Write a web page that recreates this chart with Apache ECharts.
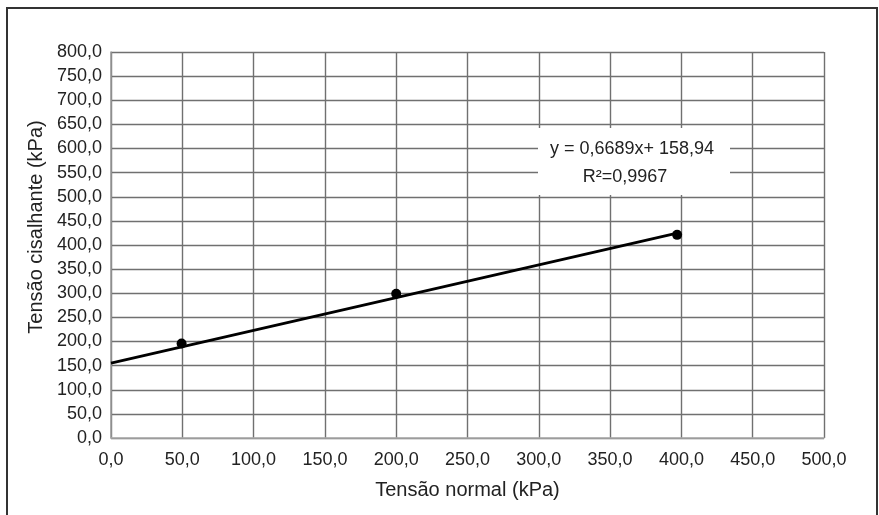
<!DOCTYPE html>
<html>
<head>
<meta charset="utf-8">
<script src="https://cdn.jsdelivr.net/npm/echarts@6/dist/echarts.min.js"></script>
<style>
html,body{margin:0;padding:0;background:#fff;}
#chart{width:879px;height:515px;}
</style>
</head>
<body>
<div id="chart"></div>
<script>
// Data
const xTitle = 'Tensão normal (kPa)';
const yTitle = 'Tensão cisalhante (kPa)';
const pointsX = [49.5, 200, 397];
const pointsY = [196, 299, 421];
const trendX = [0, 397];
const trendY = [155, 424.5];
const equationText = 'y = 0,6689x+ 158,94';
const r2Text = 'R²=0,9967';

const fmt = v => v.toFixed(1).replace('.', ',');
const FONT = '"Liberation Sans", Arial, sans-serif';

const chart = echarts.init(document.getElementById('chart'), null, {renderer: 'canvas'});
chart.setOption({
  animation: false,
  backgroundColor: '#fff',
  grid: {left: 111, right: 55, top: 52, bottom: 77, containLabel: false},
  xAxis: {
    type: 'value', min: 0, max: 500, interval: 50,
    name: xTitle, nameLocation: 'middle', nameGap: 42,
    nameTextStyle: {fontFamily: FONT, fontSize: 20, color: '#222'},
    axisLine: {show: true, lineStyle: {color: '#aaa', width: 1.5}},
    axisTick: {show: false},
    axisLabel: {formatter: fmt, margin: 13, fontFamily: FONT, fontSize: 18, color: '#222'},
    splitLine: {show: true, lineStyle: {color: '#707070', width: 1.4}}
  },
  yAxis: {
    type: 'value', min: 0, max: 800, interval: 50,
    name: yTitle, nameLocation: 'middle', nameGap: 62, nameRotate: 90,
    nameTextStyle: {fontFamily: FONT, fontSize: 20, color: '#222', padding: [0, 0, 0, 36]},
    axisLine: {show: true, lineStyle: {color: '#999', width: 1.5}},
    axisTick: {show: false},
    axisLabel: {formatter: fmt, margin: 9, fontFamily: FONT, fontSize: 18, color: '#222'},
    splitLine: {show: true, lineStyle: {color: '#707070', width: 1.4}}
  },
  graphic: [
    {type: 'rect', shape: {x: 7, y: 8, width: 870, height: 520}, style: {fill: 'none', stroke: '#333', lineWidth: 2}, z: 100},
    {type: 'rect', shape: {x: 538, y: 128, width: 192, height: 67}, style: {fill: '#fff'}, z: 50},
    {type: 'text', x: 632, y: 149, style: {text: equationText, fontFamily: FONT, fontSize: 18, fill: '#222', align: 'center', verticalAlign: 'middle'}, z: 51},
    {type: 'text', x: 625, y: 177, style: {text: r2Text, fontFamily: FONT, fontSize: 18, fill: '#222', align: 'center', verticalAlign: 'middle'}, z: 51}
  ],
  series: [
    {
      type: 'line', data: trendX.map((x, i) => [x, trendY[i]]),
      showSymbol: false, symbol: 'none',
      lineStyle: {color: '#000', width: 2.8}, z: 3
    },
    {
      type: 'scatter', data: pointsX.map((x, i) => [x, pointsY[i]]),
      symbol: 'circle', symbolSize: 10,
      itemStyle: {color: '#000', opacity: 1}, z: 4
    }
  ]
});
</script>
</body>
</html>
